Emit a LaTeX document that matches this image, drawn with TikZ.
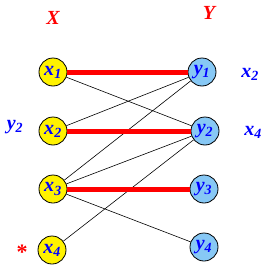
\documentclass[tikz,border=0pt]{standalone}
\usepackage{fontspec}
\setmainfont{Liberation Serif}
\begin{document}
\begin{tikzpicture}[x=1pt,y=-1pt,
  vx/.style={circle,draw=black,line width=0.8pt,fill=yellow,minimum size=28pt,inner sep=0pt,text=blue,font=\fontsize{20}{20}\selectfont\bfseries\itshape},
  vy/.style={circle,draw=black,line width=0.8pt,fill=ly,minimum size=28pt,inner sep=0pt,text=blue,font=\fontsize{20}{20}\selectfont\bfseries\itshape},
  match/.style={red,line width=5pt},
  thin/.style={black,line width=0.6pt},
  lbl/.style={text=blue,font=\fontsize{20}{20}\selectfont\bfseries\itshape,inner sep=0pt},
  head/.style={text=red,font=\fontsize{20}{20}\selectfont\bfseries\itshape,inner sep=0pt}]
\definecolor{ly}{RGB}{135,200,245}
\useasboundingbox (0,0) rectangle (270,279);
\node[vx] (x1) at (53,72) {x\textsubscript{1}};
\node[vx] (x2) at (53,131) {x\textsubscript{2}};
\node[vx] (x3) at (53,189) {x\textsubscript{3}};
\node[vx] (x4) at (52,250) {x\textsubscript{4}};
\node[vy] (y1) at (202,72) {y\textsubscript{1}};
\node[vy] (y2) at (205,131) {y\textsubscript{2}};
\node[vy] (y3) at (204,189) {y\textsubscript{3}};
\node[vy] (y4) at (204,247) {y\textsubscript{4}};
\draw[thin] (x1) -- (y2);
\draw[thin] (x2) -- (y1);
\draw[thin] (x3) -- (y1);
\draw[thin] (x3) -- (y2);
\draw[thin] (x3) -- (y4);
\draw[thin] (x4) -- (y2);
\draw[match] (x1.east) -- (y1.west);
\draw[match] (x2.east) -- (y2.west);
\draw[match] (x3.east) -- (y3.west);
\node[head] (X) at (53,18) {X};
\node[head] (Y) at (209,13) {Y};
\node[lbl] (ly2) at (15,127) {y\textsubscript{2}};
\node[lbl] (lx2) at (250,74) {x\textsubscript{2}};
\node[lbl] (lx4) at (253,132) {x\textsubscript{4}};
\node[text=red,font=\fontsize{22}{22}\selectfont\bfseries,inner sep=0pt] (star) at (22,252) {*};
\end{tikzpicture}
\end{document}
